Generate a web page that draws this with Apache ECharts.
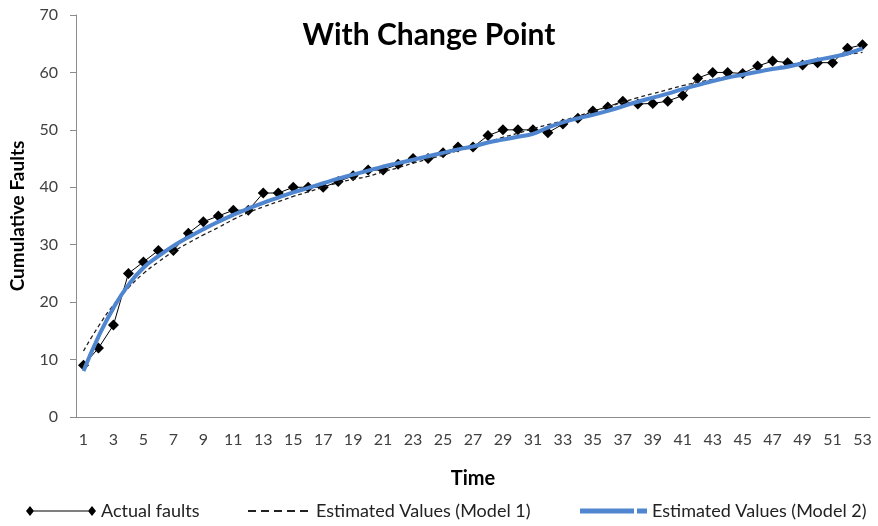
<!DOCTYPE html>
<html>
<head>
<meta charset="utf-8">
<script src="https://cdn.jsdelivr.net/npm/echarts@6/dist/echarts.min.js"></script>
<style>
  html, body { margin: 0; padding: 0; background: #fff; }
  #chart { width: 878px; height: 526px; }
</style>
</head>
<body>
<div id="chart"></div>
<script>
// Time steps 1..53
const timeSteps = [1,2,3,4,5,6,7,8,9,10,11,12,13,14,15,16,17,18,19,20,21,22,23,24,25,26,27,
  28,29,30,31,32,33,34,35,36,37,38,39,40,41,42,43,44,45,46,47,48,49,50,51,52,53];

// Observed cumulative faults
const actualFaults = [9,12,16,25,27,29,29,32,34,35,36,36,39,39,40,40,40,41,42,43,43,44,45,45,46,47,47,
  49,50,50,50,49.5,51,52,53.3,54,55,54.5,54.6,55,56,59,60,60,59.8,61.1,62,61.7,61.3,61.7,61.7,64.2,64.8];

// Fitted curve, model 1 (no change point)
const model1 = [11.5,15.8,19.5,22.5,25,27,28.8,30.3,31.7,33,34.4,35.6,36.6,37.5,38.4,39.2,40,40.8,41.4,
  41.9,42.7,43.4,44.2,44.9,45.6,46.4,47.2,47.9,48.7,49.4,50.2,50.9,51.6,52.4,53.2,54,54.8,55.6,56.3,57,
  57.7,58.3,58.8,59.3,59.8,60.3,60.8,61.3,61.8,62.3,62.7,63.1,63.5];

// Fitted curve, model 2 (with change point)
const model2 = [8,14,19,23,26,28,29.8,31.3,32.7,34,35.2,36.3,37.3,38.2,39.1,39.9,40.7,41.5,42.2,42.9,
  43.6,44.2,44.8,45.4,46,46.6,47.1,47.8,48.3,48.8,49.3,50.4,51.3,52,52.6,53.3,54.1,54.9,55.6,56.3,57.1,
  57.8,58.5,59.1,59.6,60.1,60.6,61,61.6,62.2,62.7,63.3,64.2];

const yTicks = { min: 0, max: 70, interval: 10 };

const seriesNames = ['Actual faults', 'Estimated Values (Model 1)', 'Estimated Values (Model 2)'];

const textColor = '#404040';
const axisColor = '#8c8c8c';
const blue = '#4f86cf';
const fontFamily = 'Lato';

// legend icons
const iconDiamondLine = 'path://M0,5 L4,0 L8,5 L4,10 Z M4,4.4 L66,4.4 L66,5.6 L4,5.6 Z M62,5 L66,0 L70,5 L66,10 Z';
const iconDashed = 'path://M0,0 L8,0 L8,2 L0,2 Z M13,0 L21,0 L21,2 L13,2 Z M26,0 L34,0 L34,2 L26,2 Z M39,0 L47,0 L47,2 L39,2 Z M52,0 L60,0 L60,2 L52,2 Z';
const iconBlue = 'path://M0,0 L54,0 L54,5 L0,5 Z M57,0 L67,0 L67,5 L57,5 Z';

const legendText = { fontFamily: fontFamily, fontSize: 18, color: '#222', padding: 0 };

const chart = echarts.init(document.getElementById('chart'), null, { renderer: 'canvas' });

chart.setOption({
  backgroundColor: '#ffffff',
  animation: false,
  title: {
    text: 'With Change Point',
    left: 424,
    top: 15,
    textAlign: 'center',
    textStyle: { fontFamily: fontFamily, fontWeight: 'bold', fontSize: 30, color: '#000' }
  },
  grid: { left: 76, right: 8, top: 15, bottom: 109, containLabel: false, outerBoundsMode: 'none' },
  legend: [
    {
      data: [{ name: seriesNames[0], icon: iconDiamondLine }],
      left: 21, top: 497, itemWidth: 70, itemHeight: 10,
      textStyle: legendText
    },
    {
      data: [{ name: seriesNames[1], icon: iconDashed }],
      left: 243, top: 497, itemWidth: 60, itemHeight: 2,
      textStyle: Object.assign({}, legendText, { padding: [0, 0, 0, 3] })
    },
    {
      data: [{ name: seriesNames[2], icon: iconBlue }],
      left: 575, top: 497, itemWidth: 67, itemHeight: 5,
      textStyle: legendText
    }
  ],
  xAxis: {
    type: 'category',
    data: timeSteps,
    boundaryGap: true,
    name: 'Time',
    nameLocation: 'middle',
    nameGap: 52,
    nameTextStyle: { fontFamily: fontFamily, fontWeight: 'bold', fontSize: 20, color: '#000' },
    axisLine: { lineStyle: { color: axisColor, width: 1 } },
    axisTick: { show: false },
    axisLabel: { interval: 1, margin: 15, fontFamily: fontFamily, fontSize: 16, color: textColor }
  },
  yAxis: {
    type: 'value',
    min: yTicks.min,
    max: yTicks.max,
    interval: yTicks.interval,
    name: 'Cumulative Faults',
    nameLocation: 'middle',
    nameGap: 49,
    nameRotate: 90,
    nameTextStyle: { fontFamily: fontFamily, fontWeight: 'bold', fontSize: 19, color: '#000' },
    splitLine: { show: false },
    axisLine: { show: true, lineStyle: { color: axisColor, width: 1 } },
    axisTick: { show: true, inside: false, length: 6, lineStyle: { color: axisColor } },
    axisLabel: { margin: 18, fontFamily: fontFamily, fontSize: 16, color: textColor }
  },
  series: [
    {
      name: seriesNames[0],
      type: 'line',
      data: actualFaults,
      symbol: 'diamond',
      symbolSize: 11,
      showAllSymbol: true,
      itemStyle: { color: '#000' },
      lineStyle: { color: '#000', width: 1 },
      z: 2
    },
    {
      name: seriesNames[1],
      type: 'line',
      data: model1,
      smooth: true,
      symbol: 'none',
      itemStyle: { color: '#222' },
      lineStyle: { color: '#222', width: 1.3, type: [4, 3] },
      z: 3
    },
    {
      name: seriesNames[2],
      type: 'line',
      data: model2,
      smooth: true,
      symbol: 'none',
      itemStyle: { color: blue },
      lineStyle: { color: blue, width: 4 },
      z: 4
    }
  ]
});
</script>
</body>
</html>
